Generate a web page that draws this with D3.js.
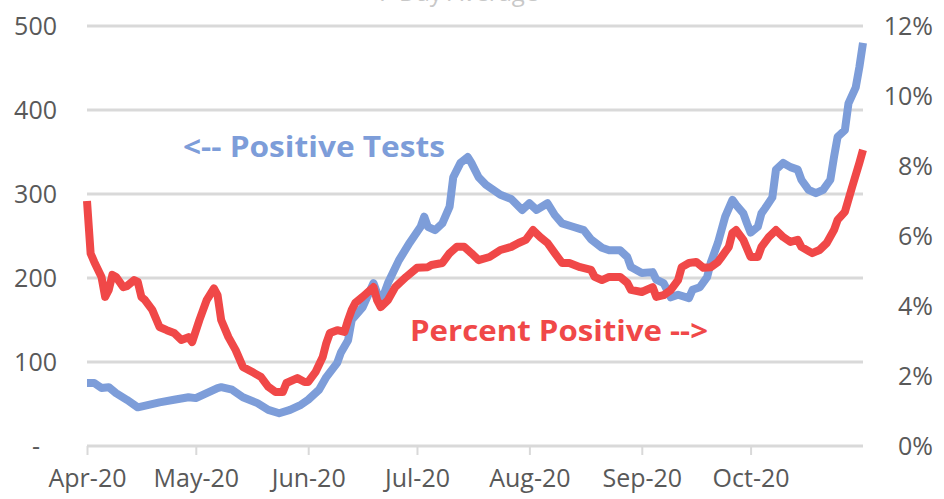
<!DOCTYPE html>
<html>
<head>
<meta charset="UTF-8">
<style>
body {
	margin: 0 ;
	background-color: #ffffff ;
	font-family: "Open Sans", Arial, sans-serif ;
}
.tick text {
	fill: #595959 ;
	font-family: "Open Sans", Arial, sans-serif ;
	font-size: 25px ;
}
.grid line {
	stroke: #d9d9d9 ;
	stroke-width: 3 ;
}
</style>
<title>Positive Tests</title>
<script src="https://cdn.jsdelivr.net/npm/d3@7"></script>
</head>
<body>
<div id="chart"></div>

<script type="text/javascript">

	const width = 944 ;
	const height = 499 ;

	// days counted from 1 Apr 2020
	const startDate = new Date( 2020, 3, 1 ) ;
	const monthLabels = [ "2020-04-01", "2020-05-01", "2020-06-01", "2020-07-01", "2020-08-01", "2020-09-01", "2020-10-01" ] ;

	const testsDays = [ 0, 2, 4, 6, 8, 11, 14, 17, 20, 24, 28, 30, 33, 36, 37, 40, 43, 47, 50, 53, 56, 59, 61, 64, 66, 69, 70, 72, 73,
		76, 79, 80, 81, 83, 86, 89, 92, 93, 94, 96, 98, 100, 101, 103, 105, 106, 108, 110, 112, 114, 117, 120, 122, 124, 127, 129,
		131, 134, 137, 139, 142, 144, 147, 149, 150, 153, 156, 157, 159, 161, 163, 166, 167, 169, 171, 172, 174, 176, 178, 179, 181,
		182, 183, 185, 186, 187, 189, 190, 192, 194, 196, 197, 199, 201, 203, 205, 206, 207, 209, 210, 212, 213, 214 ] ;
	const testsValues = [ 75, 75, 69, 70, 63, 55, 46, 49, 52, 55, 58, 57, 63, 69, 70, 67, 58, 51, 43, 39, 43, 49, 55, 67, 82, 99, 111, 126, 150,
		165, 194, 182, 170, 194, 221, 242, 261, 273, 261, 257, 265, 285, 320, 337, 344, 337, 320, 311, 305, 299, 294, 281, 289, 281, 289, 275,
		265, 261, 257, 246, 236, 233, 233, 225, 213, 206, 207, 198, 194, 177, 180, 176, 186, 189, 201, 218, 242, 273, 293, 287, 277,
		265, 254, 261, 277, 283, 296, 329, 337, 332, 329, 317, 305, 301, 305, 317, 344, 368, 376, 408, 427, 451, 480 ] ;

	const pctDays = [ 0, 1, 2, 4, 5, 6, 7, 8, 10, 11, 13, 14, 15, 16, 18, 20, 22, 24, 26, 28, 29, 31, 33, 35, 36, 37, 39, 41, 43, 46, 48,
		50, 52, 54, 55, 58, 60, 61, 63, 65, 66, 67, 69, 71, 72, 73, 74, 76, 79, 80, 81, 83, 85, 88, 91, 94, 95, 98, 100, 102, 104, 106,
		108, 111, 114, 117, 119, 121, 123, 125, 127, 129, 131, 133, 136, 139, 140, 142, 144, 147, 149, 150, 153, 156, 157, 159, 161,
		163, 164, 166, 168, 170, 172, 174, 175, 177, 178, 179, 181, 183, 185, 186, 188, 190, 192, 194, 196, 197, 200, 202, 204, 206,
		207, 209, 211, 213, 214 ] ;
	const pctValues = [ 7.0, 5.5, 5.26, 4.83, 4.26, 4.46, 4.89, 4.83, 4.54, 4.57, 4.74, 4.69, 4.26, 4.17, 3.89, 3.40, 3.31, 3.23, 3.03, 3.11, 2.97,
		3.60, 4.17, 4.50, 4.31, 3.60, 3.11, 2.74, 2.26, 2.09, 1.97, 1.69, 1.54, 1.54, 1.80, 1.94, 1.83, 1.83, 2.11, 2.54, 2.94, 3.23, 3.31,
		3.26, 3.60, 3.89, 4.09, 4.26, 4.54, 4.17, 3.97, 4.17, 4.54, 4.83, 5.09, 5.11, 5.17, 5.23, 5.51, 5.69, 5.69, 5.51, 5.31, 5.40, 5.60,
		5.69, 5.80, 5.89, 6.17, 5.97, 5.80, 5.51, 5.23, 5.23, 5.11, 5.03, 4.83, 4.74, 4.83, 4.83, 4.66, 4.46, 4.40, 4.54, 4.26, 4.31, 4.46,
		4.74, 5.11, 5.23, 5.26, 5.09, 5.11, 5.26, 5.40, 5.69, 6.09, 6.17, 5.89, 5.40, 5.40, 5.69, 5.97, 6.17, 5.97, 5.83, 5.89, 5.69, 5.51,
		5.60, 5.80, 6.17, 6.46, 6.69, 7.40, 8.09, 8.46 ] ;

	const leftTicks = [ 0, 100, 200, 300, 400, 500 ] ;
	const rightTicks = [ 0, 0.02, 0.04, 0.06, 0.08, 0.10, 0.12 ] ;

	const blue = "#7d9dd9" ;
	const red = "#f04848" ;

	const svg = d3.select( "#chart" ).append( "svg" )
		.attr( "width", width )
		.attr( "height", height ) ;

	const x = d3.scaleTime()
		.domain( [ startDate, new Date( 2020, 10, 1 ) ] )
		.range( [ 87, 863 ] ) ;
	const yL = d3.scaleLinear().domain( [ 0, 500 ] ).range( [ 446, 26 ] ) ;
	const yR = d3.scaleLinear().domain( [ 0, 0.12 ] ).range( [ 446, 26 ] ) ;

	const dayToDate = function(d) { return d3.timeDay.offset( startDate, d ) } ;

	// faint title, cut off at the top like in the source picture
	svg.append( "text" )
		.attr( "x", 458 )
		.attr( "y", 1 )
		.attr( "text-anchor", "middle" )
		.attr( "font-size", "24px" )
		.attr( "fill", "#c8c8c8" )
		.text( "7-Day Average" ) ;

	// gridlines
	svg.append( "g" )
		.attr( "class", "grid" )
		.selectAll( "line" )
		.data( leftTicks )
		.enter()
			.append( "line" )
				.attr( "x1", x.range()[0] )
				.attr( "x2", x.range()[1] )
				.attr( "y1", function(d) { return yL(d) } )
				.attr( "y2", function(d) { return yL(d) } ) ;

	// x axis
	const xAxis = svg.append( "g" )
		.attr( "transform", "translate(0," + yL(0) + ")" )
		.call( d3.axisBottom( x )
			.tickValues( monthLabels.map( function(s) { return d3.timeParse( "%Y-%m-%d" )( s ) } ) )
			.tickFormat( d3.timeFormat( "%b-%y" ) )
			.tickSize( 9 )
			.tickPadding( 14 ) ) ;
	xAxis.select( ".domain" ).remove() ;
	xAxis.selectAll( ".tick line" ).attr( "stroke", "#d9d9d9" ).attr( "stroke-width", 2 ) ;
	xAxis.selectAll( ".tick text" ).attr( "dy", "0.71em" ) ;

	// left axis
	const leftAxis = svg.append( "g" )
		.attr( "transform", "translate(57,0)" )
		.call( d3.axisLeft( yL )
			.tickValues( leftTicks )
			.tickFormat( function(d) { return d == 0 ? "-" : d } )
			.tickSize( 0 )
			.tickPadding( 0 ) ) ;
	leftAxis.select( ".domain" ).remove() ;
	leftAxis.selectAll( ".tick text" )
		.attr( "dx", function(d) { return d == 0 ? -17 : 0 } ) ;

	// right axis
	const rightAxis = svg.append( "g" )
		.attr( "transform", "translate(933,0)" )
		.call( d3.axisRight( yR )
			.tickValues( rightTicks )
			.tickFormat( d3.format( ".0%" ) )
			.tickSize( 0 )
			.tickPadding( 0 ) ) ;
	rightAxis.select( ".domain" ).remove() ;
	rightAxis.selectAll( ".tick text" ).attr( "text-anchor", "end" ) ;

	// lines
	const testsLine = d3.line()
		.x( function(d, i) { return x( dayToDate( testsDays[i] ) ) } )
		.y( function(d) { return yL(d) } ) ;
	const pctLine = d3.line()
		.x( function(d, i) { return x( dayToDate( pctDays[i] ) ) } )
		.y( function(d) { return yR( d / 100 ) } ) ;

	svg.append( "path" )
		.datum( testsValues )
		.attr( "fill", "none" )
		.attr( "stroke", blue )
		.attr( "stroke-width", 8 )
		.attr( "stroke-linejoin", "round" )
		.attr( "d", testsLine ) ;

	svg.append( "path" )
		.datum( pctValues )
		.attr( "fill", "none" )
		.attr( "stroke", red )
		.attr( "stroke-width", 8 )
		.attr( "stroke-linejoin", "round" )
		.attr( "d", pctLine ) ;

	// annotations
	svg.append( "text" )
		.attr( "x", 183 )
		.attr( "y", 157 )
		.attr( "font-size", "28px" )
		.attr( "font-weight", "bold" )
		.attr( "fill", blue )
		.attr( "textLength", 262 )
		.attr( "lengthAdjust", "spacingAndGlyphs" )
		.text( "<-- Positive Tests" ) ;

	svg.append( "text" )
		.attr( "x", 410 )
		.attr( "y", 341 )
		.attr( "font-size", "28px" )
		.attr( "font-weight", "bold" )
		.attr( "fill", red )
		.attr( "textLength", 298 )
		.attr( "lengthAdjust", "spacingAndGlyphs" )
		.text( "Percent Positive -->" ) ;

</script>
</body>
</html>
